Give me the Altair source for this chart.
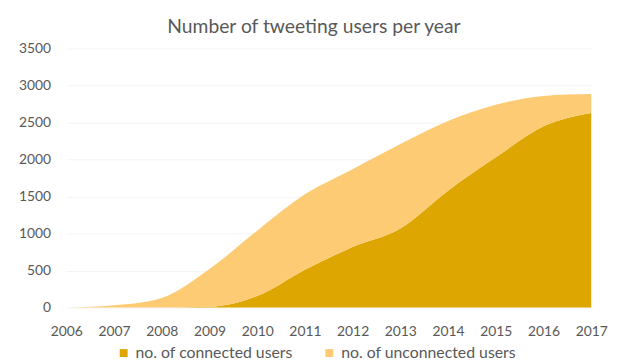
import altair as alt
import pandas as pd

years = [2006, 2007, 2008, 2009, 2010, 2011, 2012, 2013, 2014, 2015, 2016, 2017]
connected = [0, 0, 0, 10, 155, 510, 820, 1070, 1580, 2030, 2450, 2630]
unconnected = [0, 30, 130, 510, 885, 1020, 1050, 1140, 940, 710, 410, 255]
series_names = ["no. of connected users", "no. of unconnected users"]
colors = ["#DDA600", "#FCCB74"]

rows = []
for y, c, u in zip(years, connected, unconnected):
    rows.append({"year": y, "series": series_names[0], "value": c, "ord": 0})
    rows.append({"year": y, "series": series_names[1], "value": u, "ord": 1})
df = pd.DataFrame(rows)

FONT = "Lato"
GREY = "#595959"

chart = alt.Chart(df).mark_area(interpolate="monotone", opacity=1).encode(
    x=alt.X("year:Q", scale=alt.Scale(domain=[2006, 2017], nice=False, zero=False),
            axis=alt.Axis(title=None, values=years, format="d", labelFontSize=14,
                          labelColor=GREY, labelFont=FONT, labelPadding=17,
                          domain=False, ticks=False, grid=False, labelFlush=False)),
    y=alt.Y("value:Q", stack="zero", scale=alt.Scale(domain=[0, 3500], nice=False),
            axis=alt.Axis(title=None, values=[0, 500, 1000, 1500, 2000, 2500, 3000, 3500],
                          format="d", labelFontSize=14, labelColor=GREY, labelFont=FONT,
                          labelPadding=16, domain=False, ticks=False,
                          grid=True, gridColor="#F4F4F4")),
    color=alt.Color("series:N", scale=alt.Scale(domain=series_names, range=colors),
                    legend=alt.Legend(title=None, orient="none", direction="horizontal",
                                      legendX=50, legendY=300, symbolType="square",
                                      symbolSize=64, symbolOpacity=1, labelFontSize=16,
                                      labelColor=GREY, labelFont=FONT, columnPadding=28,
                                      labelOffset=4, labelLimit=300, symbolStrokeWidth=0)),
    order=alt.Order("ord:Q", sort="ascending"),
).properties(
    width=531,
    height=262,
    title=alt.TitleParams("Number of tweeting users per year", fontSize=19.5, font=FONT,
                          color=GREY, fontWeight="normal", offset=4, dx=-15),
    autosize=alt.AutoSizeParams(type="none"),
    padding={"left": 59, "top": 39, "right": 20, "bottom": 55},
).configure_view(stroke=None)

chart.save("out.html", embed_options={"renderer": "svg", "actions": False})
